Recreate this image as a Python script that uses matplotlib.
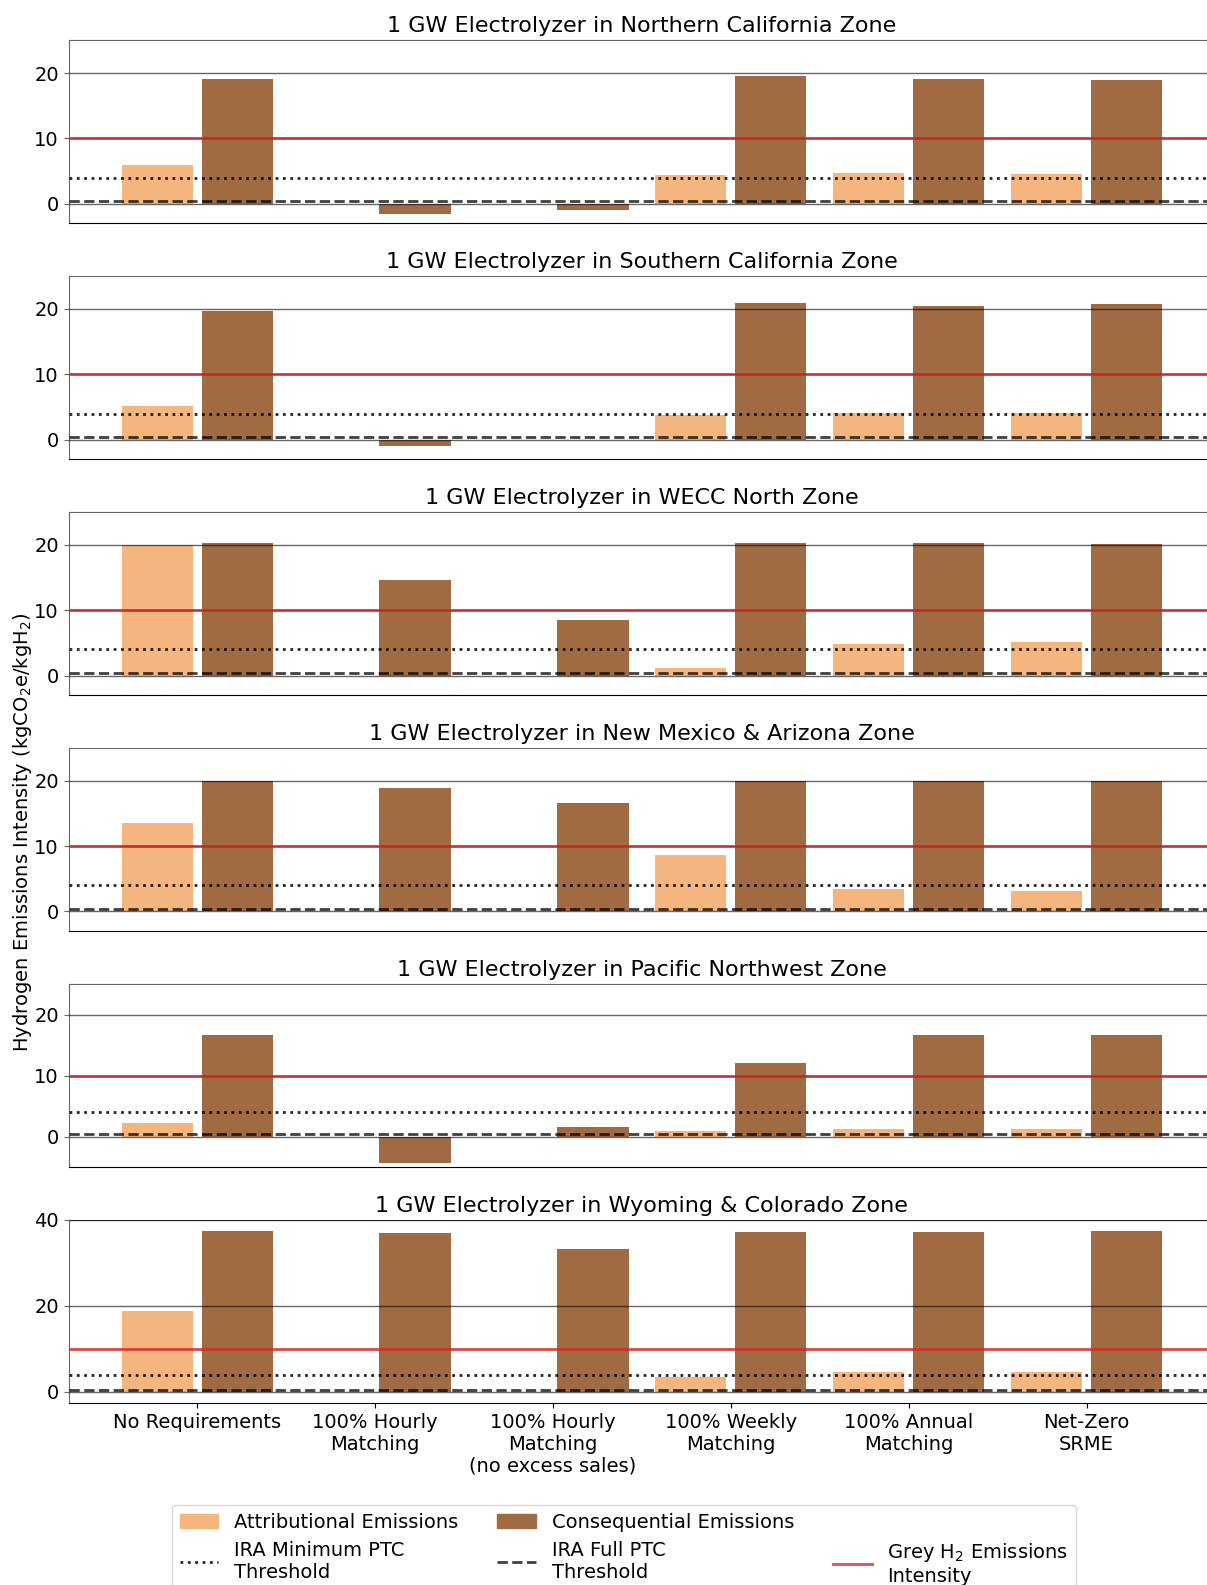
import matplotlib
matplotlib.use("Agg")
import matplotlib.pyplot as plt
from matplotlib.patches import Patch
from matplotlib.lines import Line2D
import numpy as np

plt.rcParams['font.family'] = ['DejaVu Sans']

categories = ["No Requirements", "100% Hourly\nMatching", "100% Hourly\nMatching\n(no excess sales)",
              "100% Weekly\nMatching", "100% Annual\nMatching", "Net-Zero\nSRME"]

zones = ["Northern California", "Southern California", "WECC North",
         "New Mexico & Arizona", "Pacific Northwest", "Wyoming & Colorado"]

attr_ncal = [6.0, 0.0, 0.0, 4.47, 4.76, 4.6]
cons_ncal = [19.1, -1.63, -0.97, 19.5, 19.04, 18.9]
attr_scal = [5.2, 0.0, 0.0, 3.85, 4.15, 4.15]
cons_scal = [19.7, -0.9, 0.0, 20.9, 20.5, 20.8]
attr_wecc = [20.0, 0.0, 0.0, 1.2, 4.9, 5.2]
cons_wecc = [20.3, 14.6, 8.5, 20.3, 20.3, 20.1]
attr_nmaz = [13.5, 0.0, 0.0, 8.6, 3.5, 3.1]
cons_nmaz = [20.0, 18.9, 16.6, 20.0, 20.0, 20.0]
attr_pnw = [2.17, 0.0, 0.0, 0.87, 1.15, 1.15]
cons_pnw = [16.7, -4.3, 1.5, 12.07, 16.7, 16.7]
attr_wyco = [18.8, 0.0, 0.0, 3.5, 4.5, 4.5]
cons_wyco = [37.4, 36.9, 33.2, 37.2, 37.2, 37.4]

attributional = [attr_ncal, attr_scal, attr_wecc, attr_nmaz, attr_pnw, attr_wyco]
consequential = [cons_ncal, cons_scal, cons_wecc, cons_nmaz, cons_pnw, cons_wyco]

ylims = [(-3, 25), (-3, 25), (-3, 25), (-3, 25), (-5, 25), (-2.6, 40)]
yticks = [[0, 10, 20]] * 5 + [[0, 20, 40]]

grey_h2 = 10.0
ira_min = 4.0
ira_full = 0.45

c_attr = '#f5b57f'
c_cons = '#a06a43'

W, H = 1207, 1585
fig = plt.figure(figsize=(W / 100, H / 100), dpi=100)

left_px, right_px = 68.7, 1215.0
top0, step, hgt = 40.4, 235.9, 183.0
x = np.arange(len(categories))
width = 0.4
off = 0.225

axes = []
for i in range(6):
    top = top0 + i * step
    ax = fig.add_axes([left_px / W, 1 - (top + hgt) / H, (right_px - left_px) / W, hgt / H],
                      sharex=axes[0] if axes else None)
    axes.append(ax)
    ax.bar(x - off, attributional[i], width, color=c_attr, zorder=1)
    ax.bar(x + off, consequential[i], width, color=c_cons, zorder=1)
    ax.axhline(grey_h2, color='#d62728', alpha=0.85, lw=2, zorder=3)
    ax.axhline(ira_min, color='k', ls=':', lw=2, alpha=0.85, zorder=3)
    ax.axhline(ira_full, color='k', ls='--', lw=2, alpha=0.75, zorder=3)
    ax.set_ylim(*ylims[i])
    ax.set_yticks(yticks[i])
    ax.set_axisbelow(False)
    ax.yaxis.grid(True, color='k', alpha=0.6, lw=1)
    ax.set_xlim(-0.722, 5.722)
    ax.set_title(f"1 GW Electrolyzer in {zones[i]} Zone", fontsize=16)
    ax.tick_params(axis='y', labelsize=14, colors='#666666', labelcolor='black')
    ax.spines['top'].set_color('#666666')
    ax.spines['left'].set_color('#666666')
    ax.spines['right'].set_color('#666666')
    ax.spines['bottom'].set_color('black')
    if i < 5:
        ax.tick_params(axis='x', bottom=False, labelbottom=False)

axes[-1].set_xticks(x)
axes[-1].set_xticklabels(categories, fontsize=14)

fig.text(22.5 / W, 1 - 832 / H, "Hydrogen Emissions Intensity (kgCO$_2$e/kgH$_2$)",
         rotation=90, ha='center', va='center', fontsize=14)

handles = [Patch(color=c_attr), Line2D([], [], color='k', ls=':', lw=2, alpha=0.85),
           Patch(color=c_cons), Line2D([], [], color='k', ls='--', lw=2, alpha=0.75),
           Line2D([], [], alpha=0), Line2D([], [], color='#d62728', alpha=0.8, lw=2)]
labels = ["Attributional Emissions", "IRA Minimum PTC\nThreshold",
          "Consequential Emissions", "IRA Full PTC\nThreshold",
          " ", "Grey H$_2$ Emissions\nIntensity"]
fig.legend(handles, labels, loc='upper center', bbox_to_anchor=(624 / W, 1 - 1495 / H),
           ncol=3, fontsize=14, columnspacing=2.0)

fig.savefig("out.png", dpi=100)
